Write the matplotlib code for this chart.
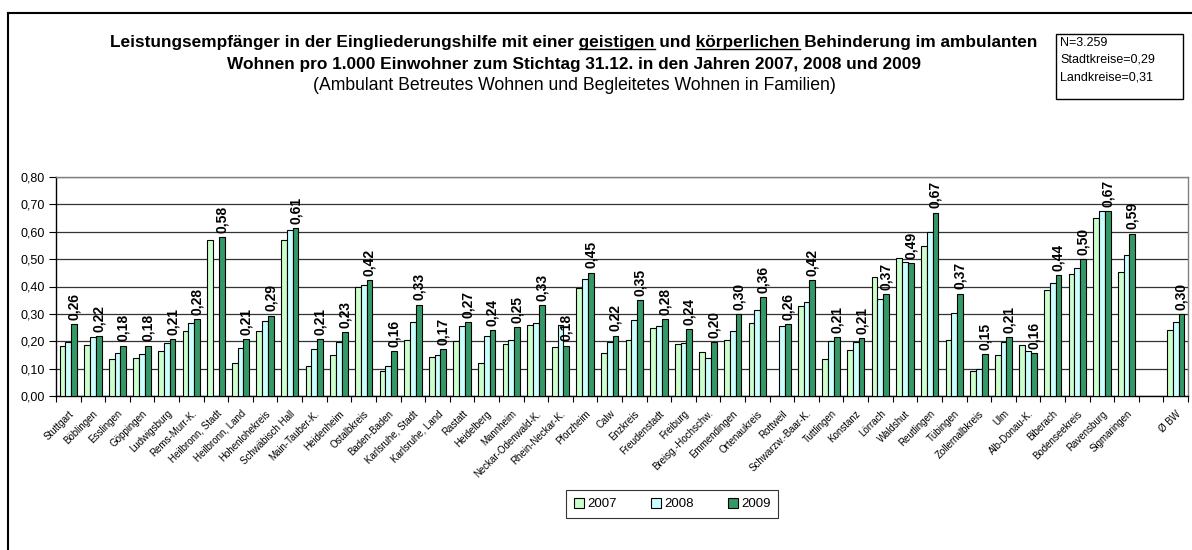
import matplotlib.pyplot as plt
import numpy as np
from matplotlib.patches import Rectangle
from matplotlib.lines import Line2D

plt.rcParams['font.family'] = ['Liberation Sans', 'DejaVu Sans']

nan = np.nan
kreise = ['Stuttgart', 'Böblingen', 'Esslingen', 'Göppingen', 'Ludwigsburg', 'Rems-Murr-K.',
          'Heilbronn, Stadt', 'Heilbronn, Land', 'Hohenlohekreis', 'Schwäbisch Hall',
          'Main-Tauber-K.', 'Heidenheim', 'Ostalbkreis', 'Baden-Baden', 'Karlsruhe, Stadt',
          'Karlsruhe, Land', 'Rastatt', 'Heidelberg', 'Mannheim', 'Neckar-Odenwald-K.',
          'Rhein-Neckar-K.', 'Pforzheim', 'Calw', 'Enzkreis', 'Freudenstadt', 'Freiburg',
          'Breisg.-Hochschw.', 'Emmendingen', 'Ortenaukreis', 'Rottweil', 'Schwarzw.-Baar-K.',
          'Tuttlingen', 'Konstanz', 'Lörrach', 'Waldshut', 'Reutlingen', 'Tübingen',
          'Zollernalbkreis', 'Ulm', 'Alb-Donau-K.', 'Biberach', 'Bodenseekreis', 'Ravensburg',
          'Sigmaringen', '', 'Ø BW']

w2007 = [0.182, 0.186, 0.135, 0.137, 0.165, 0.238, 0.569, 0.119, 0.238, 0.571,
         0.111, 0.150, 0.399, 0.091, 0.204, 0.141, 0.202, 0.119, 0.190, 0.261,
         0.179, 0.395, 0.158, 0.204, 0.247, 0.190, 0.162, 0.204, 0.265, nan,
         0.328, 0.134, 0.168, 0.433, 0.503, 0.547, 0.203, 0.091, 0.150, 0.185,
         0.387, 0.447, 0.652, 0.452, nan, 0.241]
w2008 = [0.198, 0.216, 0.158, 0.153, 0.193, 0.266, nan, 0.174, 0.274, 0.608,
         0.171, 0.196, 0.407, 0.109, 0.271, 0.150, 0.257, 0.221, 0.204, 0.267,
         0.261, 0.429, 0.196, 0.277, 0.257, 0.192, 0.140, 0.236, 0.314, 0.255,
         0.344, 0.201, 0.196, 0.356, 0.491, 0.599, 0.304, 0.098, 0.198, 0.163,
         0.413, 0.469, 0.677, 0.514, nan, 0.271]
w2009 = [0.263, 0.220, 0.184, 0.184, 0.208, 0.281, 0.581, 0.207, 0.294, 0.614,
         0.207, 0.234, 0.423, 0.163, 0.334, 0.170, 0.269, 0.241, 0.253, 0.331,
         0.184, 0.451, 0.221, 0.350, 0.280, 0.243, 0.197, 0.299, 0.362, 0.263,
         0.423, 0.214, 0.213, 0.373, 0.487, 0.670, 0.374, 0.153, 0.214, 0.158,
         0.443, 0.501, 0.674, 0.593, nan, 0.300]
jahre = ['2007', '2008', '2009']
farben = ['#CCFFCC', '#CCFFFF', '#339966']

W, H = 1192, 550
fig = plt.figure(figsize=(W / 100, H / 100), dpi=100)
ax = fig.add_axes([56 / W, 1 - 396 / H, (1188 - 56) / W, (396 - 177) / H])

x = np.arange(len(kreise))
bw = 0.235
for k, (werte, lab, col) in enumerate(zip([w2007, w2008, w2009], jahre, farben)):
    ax.bar(x + (k - 1) * bw, werte, bw, color=col, edgecolor='black', linewidth=0.8,
           label=lab, zorder=3)

# Werte 2009 beschriften
for xi, v in zip(x, w2009):
    if np.isnan(v):
        continue
    ax.annotate(f'{v:.2f}'.replace('.', ','), (xi + bw, v), xytext=(0, 3),
                textcoords='offset points', rotation=90, ha='center', va='bottom',
                fontsize=10, fontweight='bold', zorder=4)

ax.set_xlim(-0.5, len(kreise) - 0.5)
ax.set_ylim(0, 0.8)
ax.set_yticks(np.arange(0, 0.81, 0.1))
ax.set_yticklabels([f'{t:.2f}'.replace('.', ',') for t in np.arange(0, 0.81, 0.1)], fontsize=9)
ax.yaxis.grid(True, color='#333333', linewidth=0.9, zorder=0)
ax.set_axisbelow(True)

ax.set_xticks(np.arange(-0.5, len(kreise)), minor=False)
ax.set_xticklabels([])
ax.set_xticks(x, minor=True)
ax.set_xticklabels(kreise, minor=True, rotation=45, ha='right', va='top',
                   rotation_mode='anchor', fontsize=7)
ax.tick_params(axis='x', which='minor', length=0, pad=9)
ax.tick_params(axis='x', which='major', length=4, direction='out', width=0.8)
ax.tick_params(axis='y', length=5, direction='out', width=0.8, pad=3)

for s in ['left', 'bottom']:
    ax.spines[s].set_color('black')
    ax.spines[s].set_linewidth(1)
for s in ['top', 'right']:
    ax.spines[s].set_color('#808080')
    ax.spines[s].set_linewidth(1)

leg = fig.legend(loc='center', bbox_to_anchor=(672 / W, 1 - 504 / H), ncol=3,
                 fontsize=9.5, frameon=True, fancybox=False, edgecolor='black',
                 handlelength=0.8, handleheight=0.8, handletextpad=0.2,
                 columnspacing=2.6, borderpad=0.6)
leg.get_frame().set_linewidth(0.8)

# Titel
tx = 574 / W
zeile1 = 'Leistungsempfänger in der Eingliederungshilfe mit einer geistigen und körperlichen Behinderung im ambulanten'
zeile2 = 'Wohnen pro 1.000 Einwohner zum Stichtag 31.12. in den Jahren 2007, 2008 und 2009'
zeile3 = '(Ambulant Betreutes Wohnen und Begleitetes Wohnen in Familien)'
t1 = fig.text(tx, 1 - 43 / H, zeile1, ha='center', va='center', fontsize=12.4, fontweight='bold')
fig.text(tx, 1 - 64 / H, zeile2, ha='center', va='center', fontsize=12.4, fontweight='bold')
fig.text(tx, 1 - 85 / H, zeile3, ha='center', va='center', fontsize=12.7)

# Info-Kasten
fig.add_artist(Rectangle((1056 / W, 1 - 99 / H), (1183 - 1056) / W, (99 - 34) / H,
                         transform=fig.transFigure, fill=False, edgecolor='black', linewidth=1))
for i, zt in enumerate(['N=3.259', 'Stadtkreise=0,29', 'Landkreise=0,31']):
    fig.text(1060 / W, 1 - (43 + 17 * i) / H, zt, ha='left', va='center', fontsize=9)

# Rahmen
fig.add_artist(Line2D([8 / W, 8 / W], [0, 1 - 13 / H], transform=fig.transFigure,
                      color='black', linewidth=1.5))
fig.add_artist(Line2D([8 / W, 1], [1 - 13 / H, 1 - 13 / H], transform=fig.transFigure,
                      color='black', linewidth=1.5))

# Unterstreichungen
fig.canvas.draw()
r = fig.canvas.get_renderer()
bb = t1.get_window_extent(r)
prop = t1.get_fontproperties()
for wort in ['geistigen', 'körperlichen']:
    pos = zeile1.index(wort)
    bis = r.get_text_width_height_descent(zeile1[:pos + len(wort)], prop, ismath=False)[0]
    nur = r.get_text_width_height_descent(wort, prop, ismath=False)[0]
    y = (bb.y0 + 1.5) / H
    fig.add_artist(Line2D([(bb.x0 + bis - nur) / W, (bb.x0 + bis) / W], [y, y],
                          transform=fig.transFigure, color='black', linewidth=1))

fig.savefig('out.png', dpi=100)
